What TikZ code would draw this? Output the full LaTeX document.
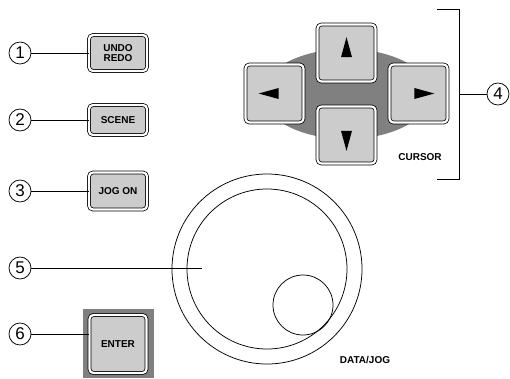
\documentclass[tikz,border=0pt]{standalone}
\usepackage{fontspec}
\setmainfont{Liberation Sans}
\usetikzlibrary{shapes.geometric}

\begin{document}
\begin{tikzpicture}[x=1pt, y=-1pt, % one unit = one pixel, y downward
	line width=0.75pt,
	btn/.style={draw, rounded corners=4pt, double=white, double distance=2.2pt,
		fill=gray!40, align=center, inner sep=0pt,
		font=\fontsize{10}{10.5}\selectfont\bfseries},
	num/.style={circle, draw, minimum size=22pt, inner sep=0pt,
		font=\fontsize{17}{17}\selectfont},
	tri/.style={isosceles triangle, isosceles triangle apex angle=30,
		isosceles triangle stretches, minimum height=20pt, minimum width=11pt,
		fill=black, inner sep=0pt},
	lbl/.style={font=\fontsize{10}{11}\selectfont\bfseries}]
	\useasboundingbox (0,0) rectangle (510,378);

	% left column of keys
	\node[btn, minimum width=58pt, minimum height=36pt] (undo)  at (118,53)  {UNDO\\REDO};
	\node[btn, minimum width=58pt, minimum height=30pt] (scene) at (118,120) {SCENE};
	\node[btn, minimum width=58pt, minimum height=37pt] (jog)   at (118,191) {JOG ON};

	\fill[gray] (83,309) rectangle (154,378);
	\node[btn, minimum width=57pt, minimum height=58pt] (enter) at (118,344) {ENTER};

	% cursor pad
	\fill[gray] (346.5,94) ellipse [x radius=84, y radius=45];
	\node[btn, minimum width=58pt, minimum height=57pt] (up) at (346.5,53)  {};
	\node[btn, minimum width=58pt, minimum height=57pt] (dn) at (346.5,135) {};
	\node[btn, minimum width=58pt, minimum height=58pt] (lt) at (274.5,93.5) {};
	\node[btn, minimum width=58pt, minimum height=58pt] (rt) at (418.5,93.5) {};
	\node[tri, shape border rotate=90]  (tup) at (up) {};
	\node[tri, shape border rotate=270] (tdn) at (dn) {};
	\node[tri, shape border rotate=180] (tlt) at (lt) {};
	\node[tri, shape border rotate=0]   (trt) at (rt) {};
	\node[lbl] (cursor) at (420,157) {CURSOR};

	% bracket
	\coordinate (bt) at (437,9);
	\coordinate (bb) at (437,179);
	\coordinate (bm) at (459,94);
	\draw (bt) -| (bm) |- (bb);

	% data/jog dial
	\node[circle, draw, minimum size=190pt, inner sep=0pt] (dial)  at (267,269) {};
	\node[circle, draw, minimum size=160pt, inner sep=0pt] (dialin) at (267,269) {};
	\node[circle, draw, minimum size=60pt, inner sep=0pt]  (knob)  at (303,305) {};
	\node[lbl] (datajog) at (365,360) {DATA/JOG};
	\coordinate (dialpt) at (202,268);

	% callouts
	\node[num] (n1) at (20,53)  {1};
	\node[num] (n2) at (20,120) {2};
	\node[num] (n3) at (20,191) {3};
	\node[num] (n4) at (498,94) {4};
	\node[num] (n5) at (20,268) {5};
	\node[num] (n6) at (20,334) {6};

	\draw (n1) -- (undo);
	\draw (n2) -- (scene);
	\draw (n3) -- (jog);
	\draw (bm) -- (n4);
	\draw (n5) -- (dialpt);
	\draw (n6) -- (n6 -| enter.west);

\end{tikzpicture}
\end{document}
